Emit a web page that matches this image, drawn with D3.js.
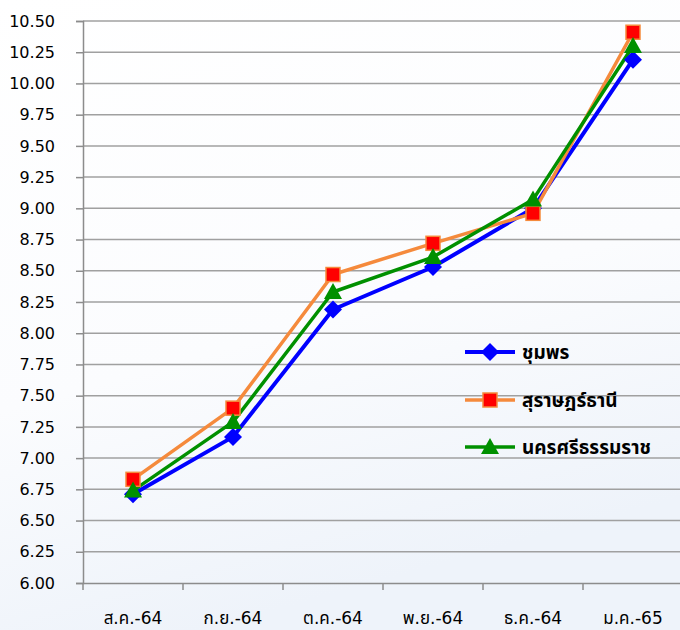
<!DOCTYPE html>
<html><head><meta charset="utf-8">
<script src="https://cdn.jsdelivr.net/npm/d3@7"></script>
<style>
html,body{margin:0;padding:0;background:#fff;}
svg{display:block;font-family:"DejaVu Sans","Noto Sans Thai","Noto Sans",sans-serif;}
</style></head><body>
<svg id="chart" width="680" height="630"></svg>
<script>
const categories = ["ส.ค.-64","ก.ย.-64","ต.ค.-64","พ.ย.-64","ธ.ค.-64","ม.ค.-65"];
const chumphon = [6.71, 7.17, 8.19, 8.53, 9.00, 10.19];
const suratthani = [6.83, 7.40, 8.47, 8.72, 8.96, 10.41];
const nakhon = [6.74, 7.29, 8.33, 8.61, 9.07, 10.30];
const seriesNames = ["ชุมพร","สุราษฎร์ธานี","นครศรีธรรมราช"];
const yTicks = [6.00,6.25,6.50,6.75,7.00,7.25,7.50,7.75,8.00,8.25,8.50,8.75,9.00,9.25,9.50,9.75,10.00,10.25,10.50];

(function(){
const FONT = '"DejaVu Sans","Noto Sans Thai","Noto Sans",sans-serif';
const svg = d3.select("#chart");
const W = 680, H = 630;
const defs = svg.append("defs");
const grad = defs.append("linearGradient").attr("id","bg").attr("x1",0).attr("y1",0).attr("x2",0.3).attr("y2",1);
grad.append("stop").attr("offset","0%").attr("stop-color","#ffffff");
grad.append("stop").attr("offset","60%").attr("stop-color","#fbfcfe");
grad.append("stop").attr("offset","100%").attr("stop-color","#eef3fa");
svg.append("rect").attr("width",W).attr("height",H).attr("fill","url(#bg)");

const mLeft = 83, mRight = 683, mTop = 21, mBottom = 583;
const x = d3.scaleBand().domain(categories).range([mLeft,mRight]);
const y = d3.scaleLinear().domain([6,10.5]).range([mBottom,mTop]);

// gridlines
svg.append("g").selectAll("line").data(yTicks.slice(1)).join("line")
  .attr("x1",mLeft).attr("x2",W).attr("y1",d=>y(d)).attr("y2",d=>y(d))
  .attr("stroke","#a0a0a0").attr("stroke-width",1.5);

// y axis
const yAxis = d3.axisLeft(y).tickValues(yTicks).tickFormat(d3.format(".2f")).tickSize(7).tickPadding(21);
const gy = svg.append("g").attr("transform",`translate(${mLeft},0)`).call(yAxis)
  .attr("font-family",FONT).attr("font-size",16);
gy.select(".domain").attr("stroke","#8c8c8c").attr("stroke-width",1.5);
gy.selectAll(".tick line").attr("stroke","#8c8c8c").attr("stroke-width",1.5);
gy.selectAll("text").attr("fill","#000");

// x axis
const xAxis = d3.axisBottom(x).tickSize(0).tickPadding(29);
const gx = svg.append("g").attr("transform",`translate(0,${mBottom})`).call(xAxis)
  .attr("font-family",FONT).attr("font-size",17);
gx.select(".domain").attr("stroke","#8c8c8c").attr("stroke-width",1.5);
gx.selectAll("text").attr("fill","#000");
gx.selectAll(".xtick").data(d3.range(categories.length+1)).join("line")
  .attr("x1",i=>mLeft+i*x.step()).attr("x2",i=>mLeft+i*x.step()).attr("y1",0).attr("y2",7)
  .attr("stroke","#8c8c8c").attr("stroke-width",1.5);

const cx = c => x(c)+x.bandwidth()/2;
const line = d3.line().x((d,i)=>cx(categories[i])).y(d=>y(d));

const series = [
  {name:seriesNames[0], values:chumphon, color:"#0000ff", width:4, marker:"diamond"},
  {name:seriesNames[1], values:suratthani, color:"#f58a3c", width:3.5, marker:"square"},
  {name:seriesNames[2], values:nakhon, color:"#009000", width:3.5, marker:"triangle"}
];

function drawMarker(g, type, px, py){
  if(type==="diamond"){
    g.append("path").attr("d",`M${px},${py-9}L${px+9},${py}L${px},${py+9}L${px-9},${py}Z`).attr("fill","#0000ff");
  } else if(type==="square"){
    g.append("rect").attr("x",px-7).attr("y",py-7).attr("width",14).attr("height",14)
      .attr("fill","#ff0000").attr("stroke","#f58a3c").attr("stroke-width",1.5);
  } else {
    g.append("path").attr("d",`M${px},${py-9}L${px+9},${py+7}L${px-9},${py+7}Z`).attr("fill","#009000");
  }
}

series.forEach(s=>{
  svg.append("path").datum(s.values).attr("d",line).attr("fill","none")
    .attr("stroke",s.color).attr("stroke-width",s.width).attr("stroke-linejoin","round");
});
series.forEach(s=>{
  const g = svg.append("g");
  s.values.forEach((v,i)=>drawMarker(g,s.marker,cx(categories[i]),y(v)));
});

// legend
const legY = [352, 400, 447];
series.forEach((s,i)=>{
  const g = svg.append("g");
  g.append("line").attr("x1",465).attr("x2",515).attr("y1",legY[i]).attr("y2",legY[i])
    .attr("stroke",s.color).attr("stroke-width",s.width);
  drawMarker(g,s.marker,490,legY[i]);
  g.append("text").attr("x",522).attr("y",legY[i]+7).attr("font-size",19).attr("font-weight","bold")
    .attr("fill","#000").text(s.name);
});
})();
</script>
</body></html>
